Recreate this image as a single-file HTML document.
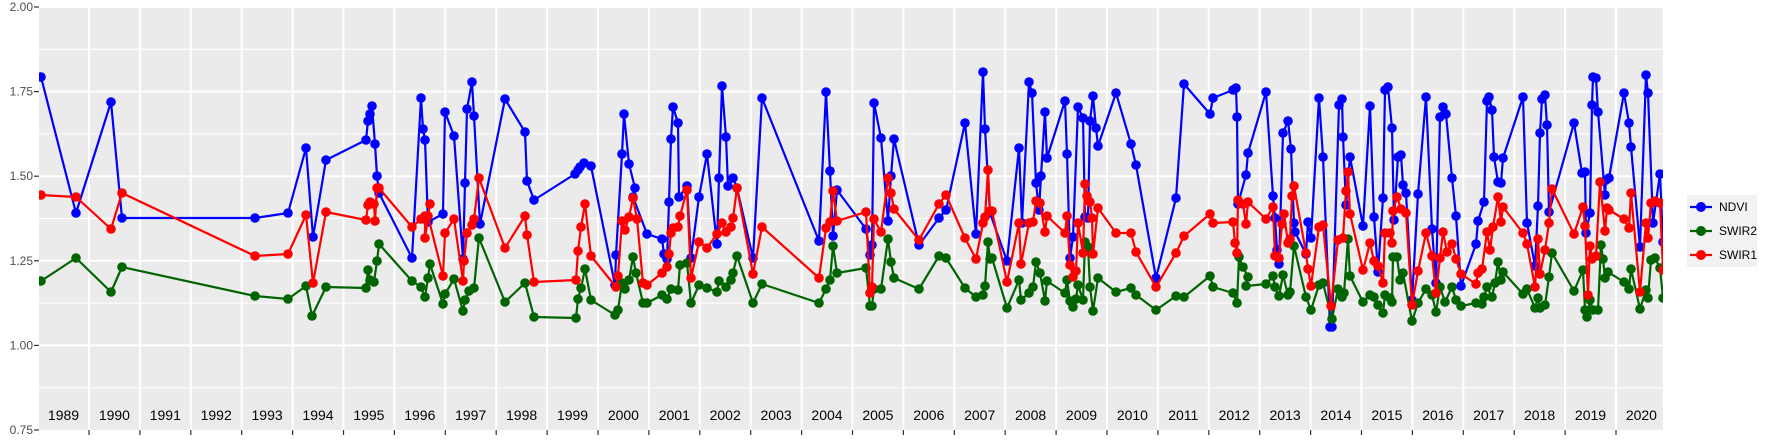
<!DOCTYPE html>
<html><head><meta charset="utf-8"><style>
body{margin:0;background:#fff;}
svg{display:block;font-family:"Liberation Sans",sans-serif;}
</style></head><body>
<svg id="s" width="1773" height="442" xmlns="http://www.w3.org/2000/svg">
<defs><clipPath id="cp"><rect x="39" y="7" width="1624" height="423"/></clipPath></defs>
<rect x="39" y="7" width="1624" height="423" fill="#ebebeb"/>
<g id="grid"></g>
<g id="series" clip-path="url(#cp)"></g>
<g id="axes" font-size="12" fill="#4d4d4d"></g>
<rect x="1687" y="195" width="70" height="72" fill="#f2f2f2"/>
<g stroke-width="2.2">
<line x1="1690" y1="207" x2="1712" y2="207" stroke="#0000ff"/><circle cx="1701" cy="207" r="5" fill="#0000ff"/>
<line x1="1690" y1="231" x2="1712" y2="231" stroke="#006400"/><circle cx="1701" cy="231" r="5" fill="#006400"/>
<line x1="1690" y1="255" x2="1712" y2="255" stroke="#ff0000"/><circle cx="1701" cy="255" r="5" fill="#ff0000"/>
</g>
<g font-size="12" fill="#000">
<text x="1719" y="211">NDVI</text><text x="1719" y="235">SWIR2</text><text x="1719" y="259">SWIR1</text>
</g>
</svg>
<script>
var NS="http://www.w3.org/2000/svg";
function el(p,t,a,txt){var e=document.createElementNS(NS,t);for(var k in a)e.setAttribute(k,a[k]);if(txt!=null)e.textContent=txt;p.appendChild(e);return e;}
var g=document.getElementById("grid"),ax=document.getElementById("axes");
var y0=7,dy=84.6;
for(var i=0;i<10;i++){var y=y0+dy*i/2;el(g,"line",{x1:39,x2:1663,y1:y,y2:y,stroke:"#fff","stroke-width":i%2?1:2});}
for(var k=0;k<31;k++){var x=89+50.9*k;el(g,"line",{x1:x,x2:x,y1:7,y2:430,stroke:"#fff","stroke-width":2});el(ax,"line",{x1:x,x2:x,y1:430,y2:435,stroke:"#333","stroke-width":1.2});}
var labs=["2.00","1.75","1.50","1.25","1.00","0.75"];
for(var i=0;i<6;i++){var y=y0+dy*i;el(ax,"text",{x:33,y:y+4,"text-anchor":"end"},labs[i]);el(ax,"line",{x1:34,x2:39,y1:y,y2:y,stroke:"#333","stroke-width":1.2});}
for(var k=0;k<32;k++){el(ax,"text",{x:63.5+50.9*k,y:420,"text-anchor":"middle","font-size":"14",fill:"#000"},String(1989+k));}
var ndvi=[41,77,76,213,111,102,122,218,255,218,288,213,306,148,313,237,326,160,366,140,368,121,370,114,372,106,375,144,377,176,379,193,412,258,421,98,423,129,425,140,428,222,443,214,445,112,454,136,463,259,465,183,467,109,472,82,474,116,480,224,505,99,525,132,527,181,534,200,575,174,578,170,580,167,584,163,591,166,615,285,616,255,622,154,624,114,629,164,635,188,633,197,647,234,662,239,664,254,667,259,669,202,671,139,673,107,678,123,679,197,687,186,691,258,699,197,707,154,717,244,719,178,722,86,726,137,728,186,733,178,737,188,753,258,762,98,819,241,826,92,830,171,833,236,837,190,866,229,870,255,872,245,874,103,881,138,888,221,891,176,894,139,919,245,939,218,946,210,965,123,976,234,983,72,985,129,990,213,1007,261,1019,148,1022,223,1029,82,1032,93,1036,183,1039,210,1041,176,1045,112,1047,158,1065,101,1067,154,1070,258,1073,237,1078,107,1083,118,1085,217,1088,218,1090,121,1093,96,1096,128,1098,146,1116,93,1131,144,1136,165,1156,278,1176,198,1184,84,1210,114,1213,98,1233,90,1236,88,1237,117,1238,204,1246,175,1248,153,1266,92,1273,196,1275,218,1277,250,1279,264,1283,133,1288,121,1291,149,1294,223,1295,232,1306,254,1308,222,1311,238,1319,98,1323,157,1330,327,1332,327,1339,105,1342,99,1343,137,1346,205,1350,157,1363,226,1370,106,1374,217,1378,272,1383,198,1385,90,1388,87,1392,128,1394,220,1398,157,1401,155,1403,185,1406,193,1412,300,1418,194,1426,97,1432,229,1436,283,1440,117,1443,107,1446,114,1452,178,1456,216,1461,286,1476,244,1478,221,1484,202,1487,101,1489,97,1492,110,1494,157,1498,182,1501,183,1503,158,1523,97,1527,223,1535,266,1538,206,1540,133,1542,99,1545,95,1547,125,1549,212,1574,123,1582,173,1585,172,1586,233,1590,213,1592,105,1593,77,1596,78,1598,112,1605,195,1606,180,1609,178,1624,93,1629,123,1631,147,1640,247,1646,75,1648,93,1653,223,1660,174,1663,242];
var sw1=[41,195,76,197,111,229,122,193,255,256,288,254,306,215,313,283,326,212,366,220,368,205,370,202,374,204,375,221,377,188,379,188,412,227,421,219,425,216,425,238,430,204,428,216,443,276,445,233,454,219,463,281,464,261,467,233,472,225,474,219,479,178,505,248,525,216,527,235,534,282,576,280,578,251,581,227,585,204,591,256,616,287,618,276,622,221,625,230,629,217,633,198,637,219,643,283,647,285,662,273,667,267,669,254,671,233,673,228,678,227,680,216,687,190,691,278,699,242,707,248,717,234,722,223,726,232,731,227,733,218,737,188,753,274,762,227,819,278,826,228,830,222,833,191,837,221,866,212,870,293,872,287,874,219,881,232,888,178,891,193,894,209,919,240,939,204,946,195,965,238,976,259,983,223,985,217,988,170,990,211,992,211,1007,282,1019,223,1021,264,1029,223,1033,222,1036,201,1040,203,1045,232,1047,216,1065,233,1067,216,1070,265,1073,277,1076,271,1078,223,1083,253,1085,184,1087,196,1090,202,1092,218,1093,254,1098,208,1116,233,1131,233,1136,252,1156,287,1176,253,1184,236,1210,214,1213,223,1233,222,1235,243,1237,253,1238,200,1243,204,1246,224,1248,202,1266,219,1273,207,1275,256,1279,258,1282,224,1284,214,1288,243,1290,239,1292,196,1294,186,1306,253,1308,269,1311,286,1319,227,1323,225,1331,306,1338,240,1343,238,1346,191,1348,172,1350,214,1363,270,1370,243,1374,261,1378,266,1383,283,1385,233,1390,233,1392,243,1393,211,1397,197,1401,209,1406,213,1412,305,1418,271,1426,233,1432,256,1436,293,1440,258,1443,232,1447,252,1452,244,1456,259,1461,274,1476,284,1478,273,1482,269,1487,232,1490,250,1493,227,1498,197,1501,222,1503,207,1523,233,1527,244,1535,287,1538,239,1540,274,1545,250,1549,223,1552,189,1574,234,1583,207,1585,226,1588,295,1590,246,1592,259,1596,256,1600,182,1605,231,1607,208,1609,210,1624,219,1629,228,1631,193,1640,292,1646,223,1648,238,1651,203,1655,201,1660,203,1663,270];
var sw2=[41,281,76,258,111,292,122,267,255,296,288,299,306,286,312,316,326,287,366,288,368,270,370,280,374,282,377,261,379,244,412,281,421,287,425,297,428,278,430,264,443,304,445,294,454,279,463,311,465,300,469,291,474,288,479,238,505,302,525,283,534,317,576,318,578,299,581,288,585,269,591,300,615,315,618,310,622,283,625,289,629,280,633,257,636,273,643,303,647,303,662,295,667,299,671,289,678,290,680,265,687,263,691,303,699,285,707,288,717,292,719,281,726,287,731,280,733,273,737,256,753,303,762,284,819,303,826,289,830,280,833,246,837,273,866,268,870,306,872,306,874,289,881,289,888,239,891,262,894,278,919,289,939,256,946,258,965,288,976,297,983,295,985,286,988,242,990,259,992,258,1007,308,1019,280,1021,300,1029,293,1033,287,1036,262,1040,273,1045,301,1047,281,1065,293,1067,280,1070,301,1073,307,1076,299,1078,285,1083,300,1085,242,1088,247,1090,287,1093,311,1098,278,1116,292,1131,288,1136,295,1156,310,1176,296,1184,297,1210,276,1213,287,1233,293,1237,303,1239,257,1243,267,1248,277,1246,286,1266,284,1273,276,1275,287,1279,296,1283,275,1288,295,1290,292,1294,246,1306,297,1311,310,1319,285,1323,283,1332,319,1338,289,1342,297,1344,293,1348,239,1350,276,1363,302,1370,295,1374,297,1378,305,1383,313,1385,295,1390,298,1392,302,1393,257,1397,257,1400,280,1403,273,1412,321,1418,303,1426,289,1432,295,1436,312,1440,287,1445,302,1452,287,1456,300,1461,306,1476,303,1482,304,1484,297,1487,287,1492,297,1495,283,1498,262,1501,280,1503,272,1523,294,1527,289,1535,308,1538,298,1540,308,1545,305,1549,277,1552,253,1574,291,1583,270,1585,310,1587,317,1590,300,1593,310,1598,310,1601,245,1603,259,1605,278,1608,272,1624,282,1629,289,1631,269,1640,309,1646,290,1648,298,1651,260,1655,258,1660,268,1663,298];
var s=document.getElementById("series");
function draw(d,c){var p="";for(var i=0;i<d.length;i+=2)p+=(i?" ":"")+d[i]+","+d[i+1];
el(s,"polyline",{points:p,fill:"none",stroke:c,"stroke-width":2.2,"stroke-linejoin":"round"});
for(var i=0;i<d.length;i+=2)el(s,"circle",{cx:d[i],cy:d[i+1],r:4.8,fill:c});}
draw(ndvi,"#0000ff");draw(sw2,"#006400");draw(sw1,"#ff0000");
</script>
</body></html>
